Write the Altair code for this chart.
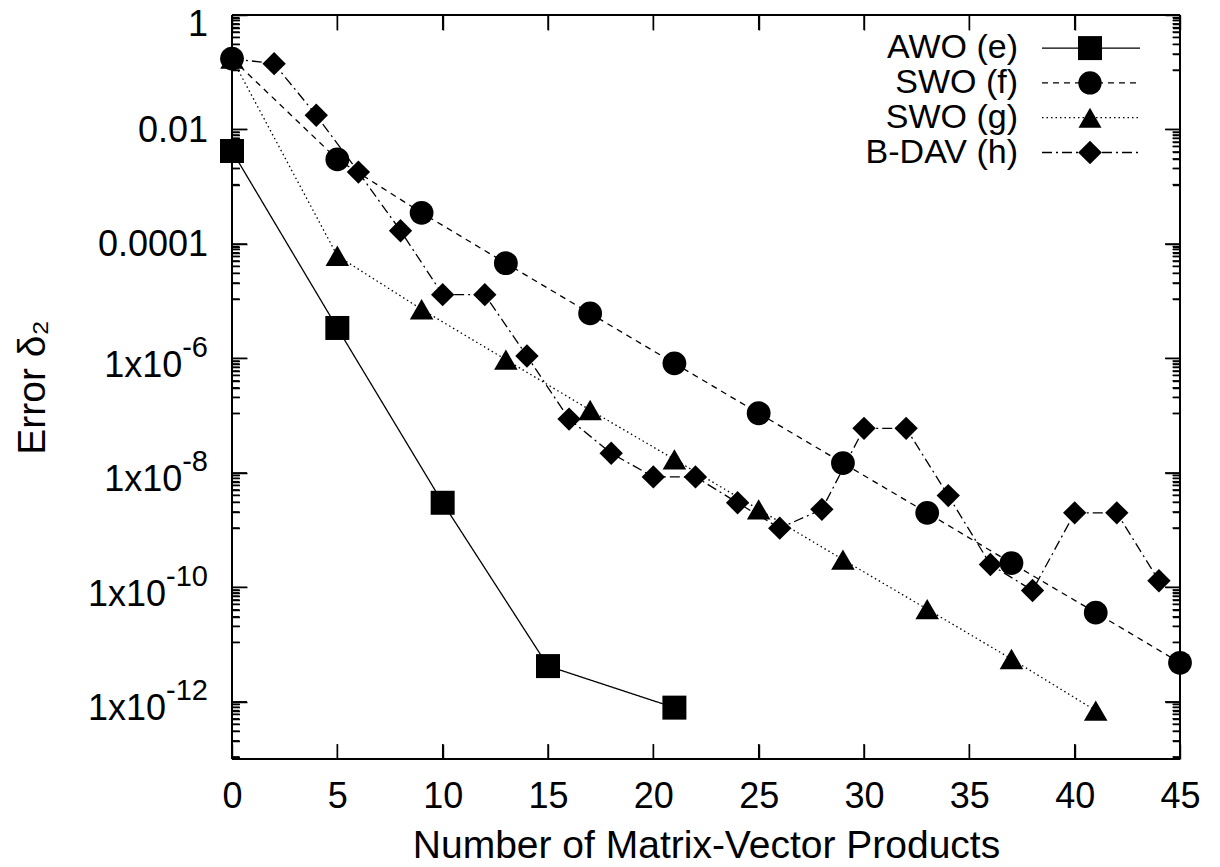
import altair as alt
import pandas as pd

# ---------------- data ----------------
series_names = ["AWO (e)", "SWO (f)", "SWO (g)", "B-DAV (h)"]

awo_x = [0, 5, 10, 15, 21]
awo_y = [4.2e-3, 3.4e-6, 3.0e-9, 4.2e-12, 7.9e-13]

swo_f_x = [0, 5, 9, 13, 17, 21, 25, 29, 33, 37, 41, 45]
swo_f_y = [0.173, 3.0e-3, 3.5e-4, 4.6e-5, 6.1e-6, 8.2e-7, 1.1e-7, 1.48e-8,
           2.0e-9, 2.65e-10, 3.6e-11, 4.8e-12]

swo_g_x = [0, 5, 9, 13, 17, 21, 25, 29, 33, 37, 41]
swo_g_y = [0.173, 6.2e-5, 7.2e-6, 9.5e-7, 1.25e-7, 1.72e-8, 2.3e-9, 3.05e-10,
           4.15e-11, 5.6e-12, 7.0e-13]

bdav_x = [0, 2, 4, 6, 8, 10, 12, 14, 16, 18, 20, 22, 24, 26, 28, 30, 32, 34,
          36, 38, 40, 42, 44]
bdav_y = [0.173, 0.141, 0.0177, 1.8e-3, 1.7e-4, 1.3e-5, 1.3e-5, 1.1e-6,
          8.7e-8, 2.2e-8, 8.5e-9, 8.5e-9, 3.0e-9, 1.08e-9, 2.3e-9, 6.0e-8,
          6.0e-8, 4.0e-9, 2.5e-10, 8.8e-11, 2.0e-9, 2.0e-9, 1.3e-10]

x_tick_values = [0, 5, 10, 15, 20, 25, 30, 35, 40, 45]
y_tick_values = [1, 1e-2, 1e-4, 1e-6, 1e-8, 1e-10, 1e-12]
y_tick_mantissa = ["1", "0.01", "0.0001", "1x10", "1x10", "1x10", "1x10"]
y_tick_exponent = ["", "", "", "-6", "-8", "-10", "-12"]
y_minor_tick_values = [
    lo + i * (hi - lo) / 10
    for hi in y_tick_values
    for lo in [hi / 100]
    for i in range(1, 10)
    if lo + i * (hi - lo) / 10 >= 1e-13
]

# ---------------- style ----------------
FONT = "Liberation Sans"
W, H = 948, 744
dashes = [[1, 0], [6, 5], [1.5, 3], [10, 4, 2, 4]]
shapes = ["square", "circle", "triangle-up", "diamond"]
sizes = [576, 545, 529, 560]
LABEL_FS, EXP_FS, TITLE_FS, LEGEND_FS = 36, 29, 39, 34
MAJ, MIN = 15, 7.5

rows = []
for name, xs, ys in [(series_names[0], awo_x, awo_y),
                     (series_names[1], swo_f_x, swo_f_y),
                     (series_names[2], swo_g_x, swo_g_y),
                     (series_names[3], bdav_x, bdav_y)]:
    for xv, yv in zip(xs, ys):
        rows.append({"series": name, "x": xv, "err": yv})
df = pd.DataFrame(rows)

x_scale = alt.Scale(domain=[0, 45], nice=False, zero=False)
y_scale = alt.Scale(type="log", domain=[1e-13, 1], nice=False)

major_test = ("datum.value > 0.999 * pow(10, round(log(datum.value) / LN10)) && "
              "datum.value < 1.001 * pow(10, round(log(datum.value) / LN10))")

x_axis = alt.Axis(
    values=x_tick_values, ticks=False, tickSize=0, domain=False,
    grid=True, gridColor="black", gridOpacity=1, gridWidth=1.4,
    gridDash=[MAJ, H - 2 * MAJ, MAJ, 200],
    labelFontSize=LABEL_FS, labelFont=FONT, labelColor="black", labelPadding=20,
    labelFlush=False,
    title="Number of Matrix-Vector Products", titleFontSize=TITLE_FS, titleFont=FONT,
    titleFontWeight="normal", titleColor="black", titleX=W / 2, titleY=98,
    titleAlign="center", titleBaseline="alphabetic")
y_axis = alt.Axis(
    values=y_tick_values + y_minor_tick_values, labels=False, ticks=False,
    tickSize=0, domain=False,
    grid=True, gridColor="black", gridOpacity=1, gridWidth=1.4,
    gridDash={"condition": {"test": major_test,
                            "value": [MAJ, W - 2 * MAJ, MAJ, 200]},
              "value": [MIN, W - 2 * MIN, MIN, 200]},
    title="Error δ₂", titleFontSize=TITLE_FS, titleFont=FONT, titleFontWeight="normal",
    titleColor="black", titleX=-200, titleY=H / 2, titleAngle=270,
    titleAlign="center", titleBaseline="middle")


def X(field):
    return alt.X(field, scale=x_scale, axis=x_axis)


def Y(field):
    return alt.Y(field, scale=y_scale, axis=y_axis)


dash_scale = alt.Scale(domain=series_names, range=dashes)
shape_scale = alt.Scale(domain=series_names, range=shapes)
size_scale = alt.Scale(domain=series_names, range=sizes)

# inward mirrored tick marks as rules as well
ticks_df = pd.DataFrame(
    [{"v": v, "kind": "ymaj"} for v in y_tick_values]
    + [{"v": v, "kind": "ymin"} for v in y_minor_tick_values]
    + [{"v": v, "kind": "xmaj"} for v in x_tick_values]
)
tick_layers = []
for kind, ln in [("ymaj", MAJ), ("ymin", MIN)]:
    for x0, x1 in [(0, ln), (W - ln, W)]:
        tick_layers.append(
            alt.Chart(ticks_df).transform_filter(f"datum.kind == '{kind}'")
            .mark_rule(color="black", strokeWidth=1.4).encode(
                y=Y("v:Q"), x=alt.value(x0), x2=alt.value(x1)))
for y0, y1 in [(0, MAJ), (H - MAJ, H)]:
    tick_layers.append(
        alt.Chart(ticks_df).transform_filter("datum.kind == 'xmaj'")
        .mark_rule(color="black", strokeWidth=1.4).encode(
            x=X("v:Q"), y=alt.value(y0), y2=alt.value(y1)))

# plot frame
one_row = pd.DataFrame({"k": [0]})
frame_layers = [
    alt.Chart(one_row).mark_rule(color="black", strokeWidth=2).encode(
        x=alt.value(0), x2=alt.value(W), y=alt.value(0)),
    alt.Chart(one_row).mark_rule(color="black", strokeWidth=2).encode(
        x=alt.value(0), x2=alt.value(W), y=alt.value(H)),
    alt.Chart(one_row).mark_rule(color="black", strokeWidth=2).encode(
        y=alt.value(0), y2=alt.value(H), x=alt.value(0)),
    alt.Chart(one_row).mark_rule(color="black", strokeWidth=2).encode(
        y=alt.value(0), y2=alt.value(H), x=alt.value(W)),
]

# y tick labels (mantissa + raised exponent, right aligned)
lab = pd.DataFrame({"v": y_tick_values, "m": y_tick_mantissa, "e": y_tick_exponent})
label_layers = [
    alt.Chart(lab).transform_filter("datum.e == '' && datum.v < 0.5").mark_text(
        align="right", baseline="alphabetic", dy=12.5, font=FONT,
        fontSize=LABEL_FS, color="black").encode(
        y=Y("v:Q"), x=alt.value(-24), text="m:N"),
    alt.Chart(lab).transform_filter("datum.v > 0.5").mark_text(
        align="right", baseline="alphabetic", dy=21, font=FONT,
        fontSize=LABEL_FS, color="black").encode(
        y=Y("v:Q"), x=alt.value(-24), text="m:N"),
    alt.Chart(lab).transform_filter("length(datum.e) == 2").mark_text(
        align="right", baseline="alphabetic", dy=18.4, font=FONT,
        fontSize=LABEL_FS, color="black").encode(
        y=Y("v:Q"), x=alt.value(-24 - 0.889 * EXP_FS), text="m:N"),
    alt.Chart(lab).transform_filter("length(datum.e) == 3").mark_text(
        align="right", baseline="alphabetic", dy=18.4, font=FONT,
        fontSize=LABEL_FS, color="black").encode(
        y=Y("v:Q"), x=alt.value(-24 - 1.445 * EXP_FS), text="m:N"),
    alt.Chart(lab).transform_filter("datum.e != ''").mark_text(
        align="right", baseline="alphabetic", dy=-1.6, font=FONT,
        fontSize=EXP_FS, color="black").encode(
        y=Y("v:Q"), x=alt.value(-24), text="e:N"),
]

lines = alt.Chart(df).mark_line(color="black", strokeWidth=1.3).encode(
    x=X("x:Q"), y=Y("err:Q"),
    strokeDash=alt.StrokeDash("series:N", scale=dash_scale, legend=None),
    detail="series:N",
)
points = alt.Chart(df).mark_point(filled=True, color="black", opacity=1).encode(
    x=X("x:Q"), y=Y("err:Q"),
    shape=alt.Shape("series:N", scale=shape_scale, legend=None),
    size=alt.Size("series:N", scale=size_scale, legend=None),
)

# custom legend (top right inside)
legend_layers = []
for i, name in enumerate(series_names):
    ly = 33.1 + i * 34.8
    one = pd.DataFrame({"series": [name]})
    legend_layers.append(alt.Chart(one).mark_text(
        align="right", baseline="middle", font=FONT, fontSize=LEGEND_FS, color="black"
    ).encode(x=alt.value(786), y=alt.value(ly), text="series:N"))
    legend_layers.append(alt.Chart(one).mark_rule(
        color="black", strokeWidth=1.3, strokeDash=dashes[i]
    ).encode(x=alt.value(810), x2=alt.value(908), y=alt.value(ly)))
    legend_layers.append(alt.Chart(one).mark_point(
        filled=True, color="black", opacity=1, shape=shapes[i], size=sizes[i]
    ).encode(x=alt.value(858), y=alt.value(ly)))

chart = alt.layer(*tick_layers, lines, points, *label_layers, *frame_layers,
                  *legend_layers).properties(
    width=W, height=H,
    autosize=alt.AutoSizeParams(type="none"),
    padding={"left": 224, "top": 7, "right": 30, "bottom": 110},
).configure(background="white").configure_view(strokeOpacity=0)

chart.save("out.html", embed_options={"renderer": "svg", "actions": False})
